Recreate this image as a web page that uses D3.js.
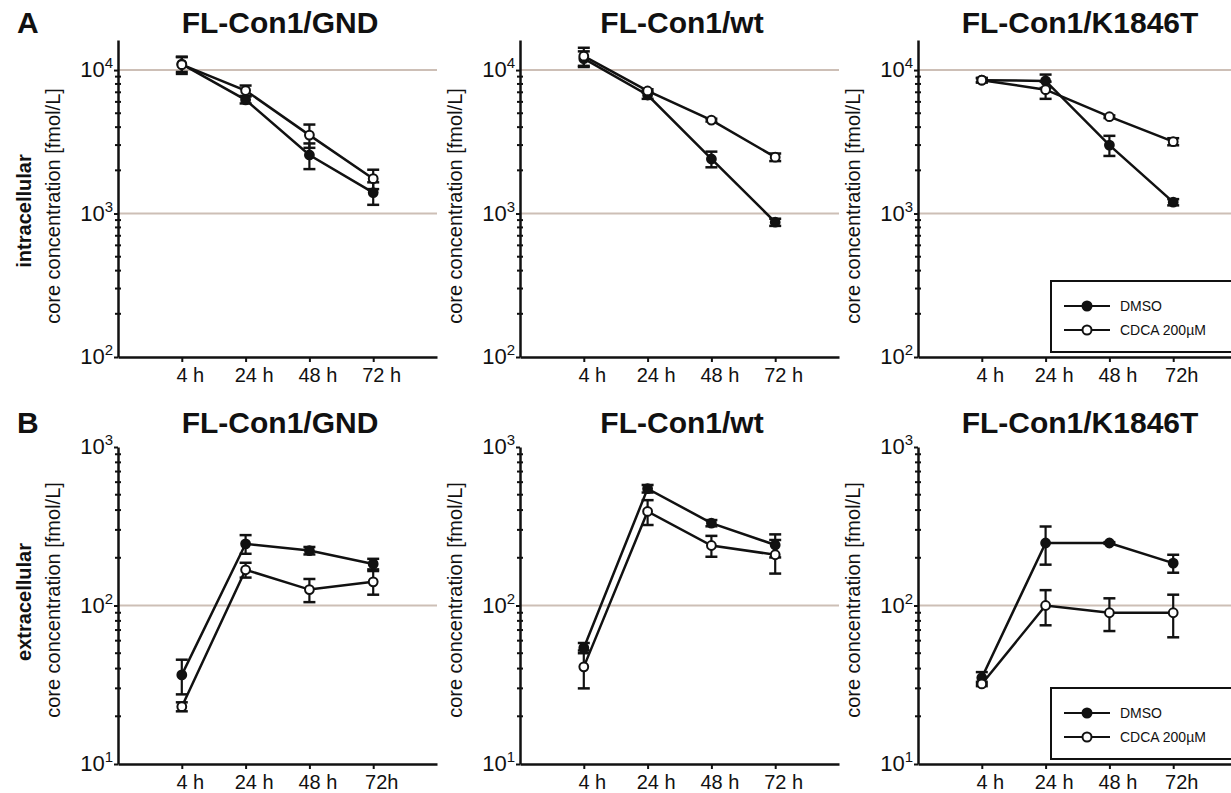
<!DOCTYPE html>
<html>
<head>
<meta charset="utf-8">
<script src="https://cdn.jsdelivr.net/npm/d3@7"></script>
<style>
  body { margin: 0; background: #fff; }
  text { font-family: "Liberation Sans", Arial, sans-serif; fill: #111; }
</style>
</head>
<body>
<script>
// time points
var times = ["4 h", "24 h", "48 h", "72 h"];

// tick labels as printed under each panel
var labelsIntraGND = ["4 h", "24 h", "48 h", "72 h"];
var labelsIntraWt  = ["4 h", "24 h", "48 h", "72 h"];
var labelsIntraK   = ["4 h", "24 h", "48 h", "72h"];
var labelsExtraGND = ["4 h", "24 h", "48 h", "72h"];
var labelsExtraWt  = ["4 h", "24 h", "48 h", "72 h"];
var labelsExtraK   = ["4 h", "24 h", "48 h", "72h"];

var panelTitles = ["FL-Con1/GND", "FL-Con1/wt", "FL-Con1/K1846T"];
var seriesNames = ["DMSO", "CDCA 200\u00B5M"];

// intracellular core concentration [fmol/L], mean and sd
var intraGNDDmso   = [11000, 6200, 2560, 1400];
var intraGNDDmsoSd = [1300, 350, 520, 250];
var intraGNDCdca   = [10900, 7200, 3520, 1750];
var intraGNDCdcaSd = [1500, 600, 650, 270];

var intraWtDmso   = [12000, 6700, 2400, 870];
var intraWtDmsoSd = [1500, 400, 300, 50];
var intraWtCdca   = [12500, 7150, 4480, 2470];
var intraWtCdcaSd = [1800, 200, 100, 150];

var intraKDmso   = [8500, 8400, 3000, 1200];
var intraKDmsoSd = [300, 900, 480, 60];
var intraKCdca   = [8500, 7300, 4730, 3170];
var intraKCdcaSd = [300, 1000, 100, 180];

// extracellular core concentration [fmol/L]
var extraGNDDmso   = [36.5, 245, 222, 183];
var extraGNDDmsoSd = [9, 33, 12, 14];
var extraGNDCdca   = [23, 168, 126, 141];
var extraGNDCdcaSd = [1.5, 18, 21, 24];

var extraWtDmso   = [54, 546, 331, 241];
var extraWtDmsoSd = [4, 30, 15, 40];
var extraWtCdca   = [41, 392, 239, 209];
var extraWtCdcaSd = [11, 70, 36, 50];

var extraKDmso   = [35, 248, 248, 185];
var extraKDmsoSd = [3, 67, 3, 24];
var extraKCdca   = [32, 100, 90, 90];
var extraKCdcaSd = [1, 25, 21, 27];

var svgWidth = 1231, svgHeight = 793;
var gridColor = '#cdbfb6';
var plotWidth = 319;
var axisXs = [118, 520, 918];

var svg = d3.select('body').append('svg')
  .attr('width', svgWidth)
  .attr('height', svgHeight);

var rows = [
  {
    letter: 'A', rowLabel: 'intracellular', top: 40, bottom: 357,
    domain: [100, 16200], majors: [100, 1000, 10000], grid: [1000, 10000],
    minors: [200, 300, 400, 500, 600, 700, 800, 900, 2000, 3000, 4000, 5000, 6000, 7000, 8000, 9000],
    titleY: 33, ylabelY: 206, rowLabelY: 211,
    panels: [
      { labels: labelsIntraGND, d: intraGNDDmso, dsd: intraGNDDmsoSd, c: intraGNDCdca, csd: intraGNDCdcaSd },
      { labels: labelsIntraWt, d: intraWtDmso, dsd: intraWtDmsoSd, c: intraWtCdca, csd: intraWtCdcaSd },
      { labels: labelsIntraK, d: intraKDmso, dsd: intraKDmsoSd, c: intraKCdca, csd: intraKCdcaSd }
    ],
    legendTop: 281
  },
  {
    letter: 'B', rowLabel: 'extracellular', top: 447, bottom: 764,
    domain: [10, 1000], majors: [10, 100, 1000], grid: [100],
    minors: [20, 30, 40, 50, 60, 70, 80, 90, 200, 300, 400, 500, 600, 700, 800, 900],
    titleY: 433, ylabelY: 600, rowLabelY: 602,
    panels: [
      { labels: labelsExtraGND, d: extraGNDDmso, dsd: extraGNDDmsoSd, c: extraGNDCdca, csd: extraGNDCdcaSd },
      { labels: labelsExtraWt, d: extraWtDmso, dsd: extraWtDmsoSd, c: extraWtCdca, csd: extraWtCdcaSd },
      { labels: labelsExtraK, d: extraKDmso, dsd: extraKDmsoSd, c: extraKCdca, csd: extraKCdcaSd }
    ],
    legendTop: 688
  }
];

rows.forEach(function(row) {
  // panel letter
  svg.append('text').text(row.letter)
    .attr('x', 17).attr('y', row.titleY)
    .attr('font-size', '30px').attr('font-weight', 'bold');

  // row label
  svg.append('text').text(row.rowLabel)
    .attr('transform', 'translate(31,' + row.rowLabelY + ')rotate(-90)')
    .attr('text-anchor', 'middle')
    .attr('font-size', '20px').attr('font-weight', 'bold');

  var y = d3.scaleLog().domain(row.domain).range([row.bottom, row.top]);

  row.panels.forEach(function(p, i) {
    var ax = axisXs[i];
    var g = svg.append('g').attr('transform', 'translate(' + ax + ',0)');
    var x = d3.scalePoint().domain(times).range([0, plotWidth]).padding(1);

    // title
    svg.append('text').text(panelTitles[i])
      .attr('x', ax + 162).attr('y', row.titleY)
      .attr('text-anchor', 'middle')
      .attr('font-size', '30px').attr('font-weight', 'bold');

    // y label
    svg.append('text').text('core concentration [fmol/L]')
      .attr('transform', 'translate(' + (ax - 58) + ',' + row.ylabelY + ')rotate(-90)')
      .attr('text-anchor', 'middle')
      .attr('font-size', '20px');

    // grid lines
    g.selectAll('.grid')
      .data(row.grid)
      .enter()
      .append('line')
      .attr('x1', 0).attr('x2', plotWidth)
      .attr('y1', function(d) { return y(d); })
      .attr('y2', function(d) { return y(d); })
      .attr('stroke', gridColor).attr('stroke-width', 2);

    // x axis
    var xAxis = g.append('g')
      .attr('transform', 'translate(0,' + row.bottom + ')')
      .call(d3.axisBottom(x).tickSizeInner(5).tickSizeOuter(0).tickPadding(6)
        .tickFormat(function(d, k) { return p.labels[k]; }));
    xAxis.select('.domain').attr('stroke', '#111').attr('stroke-width', 2.5);
    xAxis.selectAll('.tick line').attr('stroke', '#111').attr('stroke-width', 2);
    xAxis.selectAll('.tick text')
      .attr('font-size', '20px').attr('font-family', '"Liberation Sans", Arial, sans-serif')
      .attr('fill', '#111').attr('dx', 8);

    // y axis
    var yAxis = g.append('g')
      .call(d3.axisLeft(y).tickValues(row.majors).tickSizeInner(4).tickSizeOuter(0)
        .tickFormat(''));
    yAxis.select('.domain').attr('stroke', '#111').attr('stroke-width', 2.5);
    yAxis.selectAll('.tick line').attr('stroke', '#111').attr('stroke-width', 2);

    g.selectAll('.minor')
      .data(row.minors)
      .enter()
      .append('line')
      .attr('x1', -3).attr('x2', 3)
      .attr('y1', function(d) { return y(d); })
      .attr('y2', function(d) { return y(d); })
      .attr('stroke', '#111').attr('stroke-width', 2);

    var lbl = g.selectAll('.ylab')
      .data(row.majors)
      .enter()
      .append('text')
      .attr('x', -5)
      .attr('y', function(d) { return y(d) + 7; })
      .attr('text-anchor', 'end')
      .attr('font-size', '22px');
    lbl.append('tspan').text('10');
    lbl.append('tspan').text(function(d) { return Math.round(Math.log10(d)); })
      .attr('font-size', '15px').attr('dy', -9);

    // series
    var series = [
      { mean: p.d, sd: p.dsd, fill: '#111' },
      { mean: p.c, sd: p.csd, fill: '#fff' }
    ];
    var line = d3.line()
      .x(function(d, k) { return x(times[k]); })
      .y(function(d) { return y(d); });

    series.forEach(function(s) {
      g.append('path')
        .datum(s.mean)
        .attr('d', line)
        .attr('fill', 'none')
        .attr('stroke', '#111')
        .attr('stroke-width', 2.5);

      var eb = g.selectAll(null)
        .data(s.mean)
        .enter()
        .append('g');
      eb.append('line')
        .attr('x1', function(d, k) { return x(times[k]); })
        .attr('x2', function(d, k) { return x(times[k]); })
        .attr('y1', function(d, k) { return y(d + s.sd[k]); })
        .attr('y2', function(d, k) { return y(d - s.sd[k]); })
        .attr('stroke', '#111').attr('stroke-width', 2.2);
      [1, -1].forEach(function(sign) {
        eb.append('line')
          .attr('x1', function(d, k) { return x(times[k]) - 6; })
          .attr('x2', function(d, k) { return x(times[k]) + 6; })
          .attr('y1', function(d, k) { return y(d + sign * s.sd[k]); })
          .attr('y2', function(d, k) { return y(d + sign * s.sd[k]); })
          .attr('stroke', '#111').attr('stroke-width', 2.5);
      });
    });

    series.forEach(function(s) {
      g.selectAll(null)
        .data(s.mean)
        .enter()
        .append('circle')
        .attr('cx', function(d, k) { return x(times[k]); })
        .attr('cy', function(d) { return y(d); })
        .attr('r', 4.4)
        .attr('fill', s.fill)
        .attr('stroke', '#111')
        .attr('stroke-width', 2);
    });

    // legend in the right panel
    if (i === 2) {
      var lg = svg.append('g').attr('transform', 'translate(1051,' + row.legendTop + ')');
      lg.append('rect')
        .attr('x', 0).attr('y', 0)
        .attr('width', 220).attr('height', 71)
        .attr('fill', '#fff').attr('stroke', '#111').attr('stroke-width', 2);
      seriesNames.forEach(function(name, k) {
        var ly = 25 + k * 24;
        lg.append('line')
          .attr('x1', 13).attr('x2', 59)
          .attr('y1', ly).attr('y2', ly)
          .attr('stroke', '#111').attr('stroke-width', 2);
        lg.append('circle')
          .attr('cx', 36).attr('cy', ly).attr('r', 4.5)
          .attr('fill', k === 0 ? '#111' : '#fff')
          .attr('stroke', '#111').attr('stroke-width', 2);
        lg.append('text').text(name)
          .attr('x', 69).attr('y', ly + 5)
          .attr('font-size', '14px');
      });
    }
  });
});
</script>
</body>
</html>
